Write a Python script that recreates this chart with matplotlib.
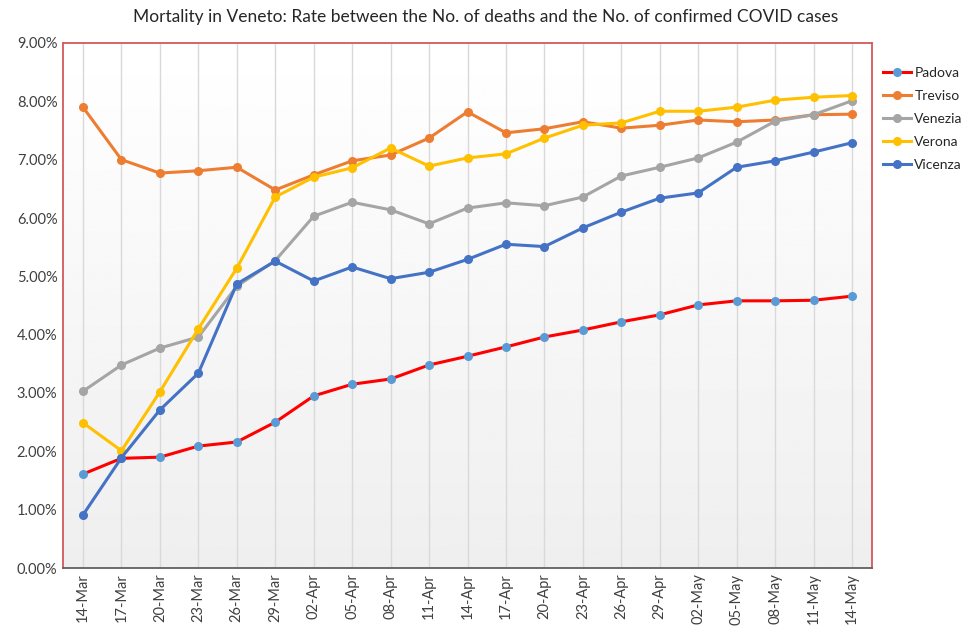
import numpy as np
import matplotlib.pyplot as plt

# dates on the x axis (every 3 days)
dates = ["14-Mar", "17-Mar", "20-Mar", "23-Mar", "26-Mar", "29-Mar", "02-Apr",
         "05-Apr", "08-Apr", "11-Apr", "14-Apr", "17-Apr", "20-Apr", "23-Apr",
         "26-Apr", "29-Apr", "02-May", "05-May", "08-May", "11-May", "14-May"]

# mortality rate in %
padova = [1.61, 1.88, 1.90, 2.09, 2.16, 2.50, 2.95, 3.15, 3.24, 3.48, 3.63,
          3.79, 3.96, 4.08, 4.22, 4.34, 4.51, 4.58, 4.58, 4.59, 4.66]
treviso = [7.90, 7.00, 6.77, 6.81, 6.87, 6.48, 6.74, 6.98, 7.08, 7.37, 7.82,
           7.46, 7.53, 7.65, 7.54, 7.59, 7.68, 7.65, 7.68, 7.77, 7.78]
venezia = [3.03, 3.48, 3.77, 3.96, 4.83, 5.27, 6.03, 6.27, 6.14, 5.90, 6.17,
           6.26, 6.21, 6.36, 6.72, 6.87, 7.03, 7.30, 7.66, 7.77, 8.01]
verona = [2.49, 2.01, 3.02, 4.10, 5.14, 6.36, 6.70, 6.86, 7.20, 6.89, 7.03,
          7.10, 7.37, 7.59, 7.63, 7.83, 7.83, 7.90, 8.02, 8.07, 8.10]
vicenza = [0.91, 1.89, 2.71, 3.34, 4.87, 5.26, 4.92, 5.16, 4.96, 5.07, 5.29,
           5.55, 5.51, 5.83, 6.10, 6.34, 6.43, 6.87, 6.98, 7.13, 7.29]

plt.rcParams['font.family'] = ['Lato', 'DejaVu Sans']

fig = plt.figure(figsize=(9.72, 6.31), dpi=100)
ax = fig.add_axes([63/972, 1-568/631, (872-63)/972, (568-43)/631])

x = np.arange(len(dates))
ax.set_xlim(-0.52, len(dates) - 0.48)
ax.set_ylim(0, 9)

# light vertical gradient background, white at top, grey at bottom
grad = np.linspace(0.935, 1.0, 256).reshape(-1, 1)
ax.imshow(grad, cmap="gray", vmin=0, vmax=1, aspect="auto", origin="lower",
          extent=[ax.get_xlim()[0], ax.get_xlim()[1], 0, 9], zorder=0)

for xi in x:
    ax.axvline(xi, color="#d9d9d9", lw=1, zorder=1)

series = [
    ("Padova", padova, "#ff0000", "#5b9bd5"),
    ("Treviso", treviso, "#ed7d31", "#ed7d31"),
    ("Venezia", venezia, "#a5a5a5", "#a5a5a5"),
    ("Verona", verona, "#ffc000", "#ffc000"),
    ("Vicenza", vicenza, "#4472c4", "#4472c4"),
]
for name, vals, col, mcol in series:
    ax.plot(x, vals, color=col, lw=2.2, marker="o", ms=5.5,
            markerfacecolor=mcol, markeredgecolor=mcol, label=name, zorder=3)

ax.set_xticks(x)
ax.set_xticklabels(dates, rotation=90, fontsize=10.5, color="#404040")
ax.set_yticks(np.arange(0, 10, 1))
ax.set_yticklabels(["{:.2f}%".format(v) for v in range(10)], fontsize=10.5,
                   color="#404040")
ax.tick_params(length=0, pad=4)

for s in ["left", "top", "right"]:
    ax.spines[s].set_color("#d25a5a")
    ax.spines[s].set_linewidth(1.3)
ax.spines["bottom"].set_color("#606060")
ax.spines["bottom"].set_linewidth(1.3)

fig.text(0.5, 1-17/631, "Mortality in Veneto: Rate between the No. of deaths and the No. of confirmed COVID cases",
         ha="center", va="center", fontsize=12.5, color="#262626")

leg = ax.legend(loc="upper left", bbox_to_anchor=(1.0, 0.975), frameon=False,
                fontsize=10, handlelength=2.0, labelspacing=0.78,
                handletextpad=0.25, borderaxespad=0.5, borderpad=0.3)
for t in leg.get_texts():
    t.set_color("#262626")

fig.savefig("out.png", dpi=100)
